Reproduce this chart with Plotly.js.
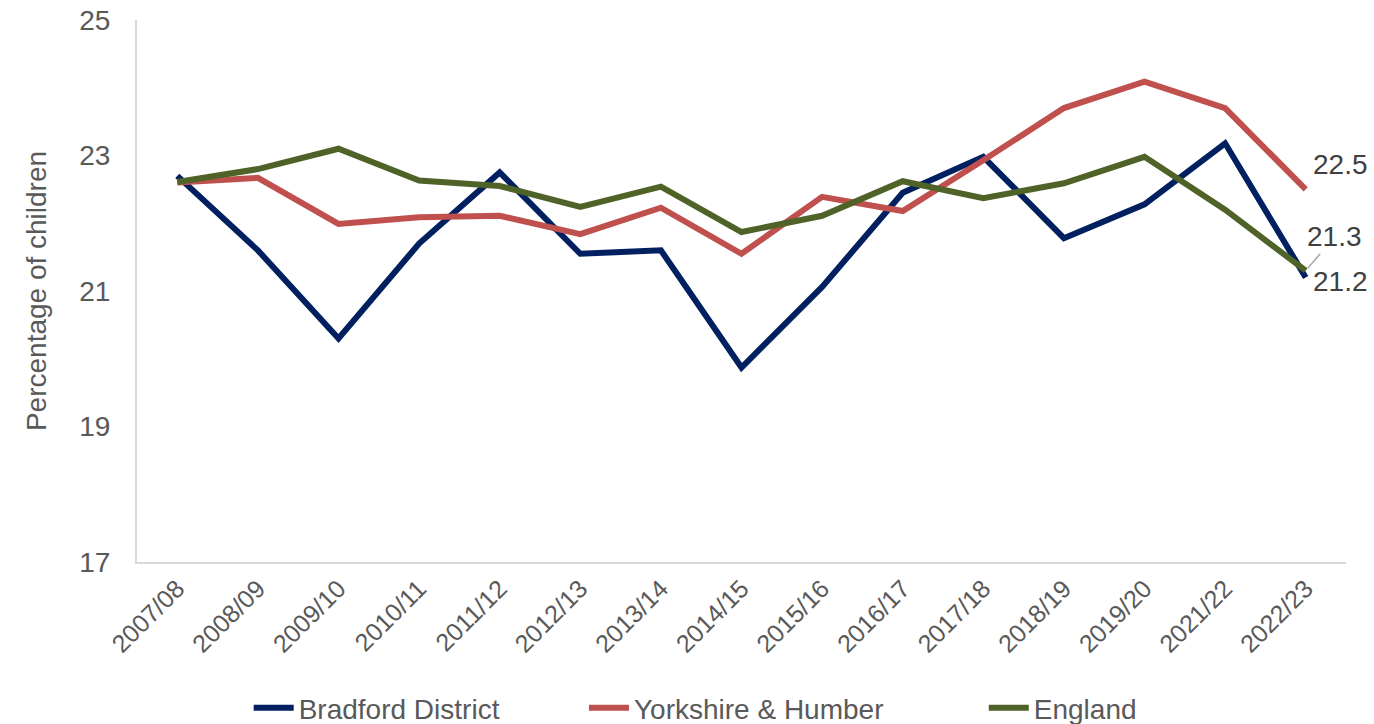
<!DOCTYPE html>
<html>
<head>
<meta charset="utf-8">
<script src="https://cdn.plot.ly/plotly-3.0.1.min.js"></script>
<style>
  body { margin: 0; background: #fff; }
  #plot-area { width: 1374px; height: 724px; }
</style>
</head>
<body>
<div id="plot-area"></div>
<script>
// years on the x axis
var years = ["2007/08", "2008/09", "2009/10", "2010/11", "2011/12", "2012/13", "2013/14",
             "2014/15", "2015/16", "2016/17", "2017/18", "2018/19", "2019/20", "2021/22", "2022/23"];

// percentage of children
var bradford  = [22.7, 21.6, 20.3, 21.7, 22.75, 21.55, 21.6, 19.87, 21.06, 22.45, 22.98, 21.78, 22.28, 23.18, 21.2];
var yorkshire = [22.6, 22.67, 21.99, 22.09, 22.11, 21.84, 22.23, 21.55, 22.39, 22.18, 22.93, 23.7, 24.09, 23.7, 22.5];
var england   = [22.61, 22.8, 23.1, 22.63, 22.55, 22.24, 22.54, 21.87, 22.11, 22.62, 22.37, 22.59, 22.98, 22.2, 21.3];

var seriesNames = ["Bradford District", "Yorkshire & Humber", "England"];
var yTicks = [17, 19, 21, 23, 25];

var last = years.length - 1;

function legendAt(xpos) {
    // one legend box per series so the entries sit where the original has them
    return {
        orientation: "h",
        x: xpos, xanchor: "left", xref: "container",
        y: 0.022, yanchor: "middle", yref: "container",
        font: {size: 28, color: "#595959"},
        itemwidth: 40,
        bgcolor: "rgba(0,0,0,0)"
    };
}

function UpdatePlot() {
    var data = [
        {
            x: years, y: bradford, mode: "lines", name: seriesNames[0],
            line: {color: "#002060", width: 6}, legend: "legend"
        },
        {
            x: years, y: yorkshire, mode: "lines", name: seriesNames[1],
            line: {color: "#C0504D", width: 6}, legend: "legend2"
        },
        {
            x: years, y: england, mode: "lines", name: seriesNames[2],
            line: {color: "#4F6228", width: 6}, legend: "legend3"
        }
    ];

    var labelFont = {family: "Liberation Sans, Arial, sans-serif", size: 28, color: "#404040"};

    // end-of-line value labels
    var annotations = [
        {
            x: years[last], y: yorkshire[last], text: String(yorkshire[last]),
            showarrow: false, xanchor: "left", yanchor: "middle",
            xshift: 5, yshift: 25, font: labelFont
        },
        {
            x: years[last], y: england[last], text: String(england[last]),
            showarrow: true, arrowhead: 0, arrowwidth: 1.5, arrowcolor: "#a6a6a6",
            ax: 29, ay: -34, xanchor: "center", yanchor: "middle",
            standoff: 3, font: labelFont
        },
        {
            x: years[last], y: bradford[last], text: String(bradford[last]),
            showarrow: false, xanchor: "left", yanchor: "middle",
            xshift: 5, yshift: -4, font: labelFont
        }
    ];

    var layout = {
        width: 1374,
        height: 724,
        margin: {l: 137, r: 28, t: 20, b: 162},
        paper_bgcolor: "#ffffff",
        plot_bgcolor: "#ffffff",
        font: {family: "Liberation Sans, Arial, sans-serif", color: "#595959"},
        showlegend: true,
        legend: legendAt(0.181),
        legend2: legendAt(0.425),
        legend3: legendAt(0.716),
        xaxis: {
            type: "category",
            range: [-0.5, last + 0.5],
            showline: true, linecolor: "#d9d9d9", linewidth: 2,
            showgrid: false, zeroline: false,
            ticks: "", tickangle: -45,
            tickfont: {size: 25, color: "#595959"}
        },
        yaxis: {
            range: [17, 25],
            tickvals: yTicks,
            showline: true, linecolor: "#d9d9d9", linewidth: 2,
            showgrid: false, zeroline: false,
            ticks: "", ticklabelstandoff: 19,
            tickfont: {size: 28, color: "#595959"},
            title: {text: "Percentage of children", font: {size: 28, color: "#595959"}, standoff: 24}
        },
        annotations: annotations
    };

    Plotly.newPlot("plot-area", data, layout, {displayModeBar: false});
}

UpdatePlot();
</script>
</body>
</html>
